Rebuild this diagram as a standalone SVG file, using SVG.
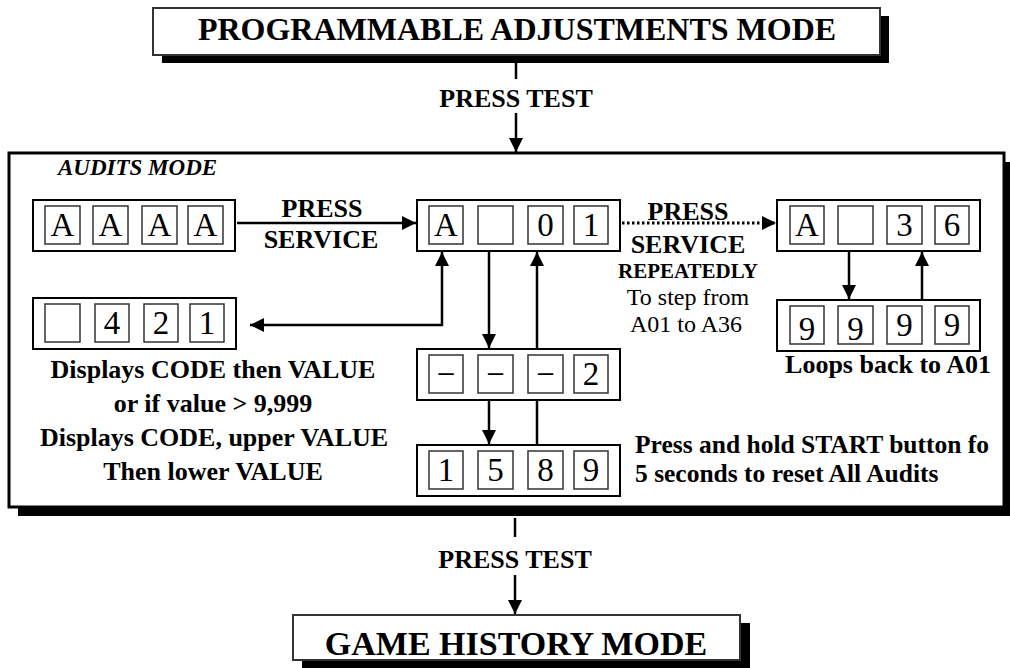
<svg xmlns="http://www.w3.org/2000/svg" width="1010" height="668" viewBox="0 0 1010 668">
<style>
text{font-family:"Liberation Serif","Times New Roman",serif;fill:#000}
.b{font-weight:bold}
.lbl{font-weight:bold;font-size:26px}
.c{text-anchor:middle}
.dig{font-size:33px;text-anchor:middle}
.outer{fill:#fff;stroke:#000;stroke-width:2}
.cell{fill:#fff;stroke:#333;stroke-width:1.5}
.shadow{fill:#000}
.ln{fill:none;stroke:#000;stroke-width:2.5}
.dot{fill:none;stroke:#000;stroke-width:3;stroke-dasharray:2.5 2.5}
</style>
<defs>
<marker id="ah" viewBox="0 0 14 14" refX="14" refY="7" markerWidth="14" markerHeight="14" markerUnits="userSpaceOnUse" orient="auto-start-reverse"><path d="M0,0 L14,7 L0,14 z" fill="#000"/></marker>
</defs>
<rect width="1010" height="668" fill="#fff"/>

<g id="audits-mode">
<rect class="shadow" x="18" y="162" width="995" height="354"/>
<rect x="9" y="153" width="995" height="354" fill="#fff" stroke="#000" stroke-width="3"/>
<text x="58" y="175" font-size="23" font-weight="bold" font-style="italic">AUDITS MODE</text>
</g>

<g id="programmable-adjustments">
<rect class="shadow" x="162" y="16" width="727" height="47"/>
<rect x="153" y="8" width="727" height="47" fill="#fff" stroke="#333" stroke-width="2"/>
<text class="b c" x="517" y="40" font-size="32">PROGRAMMABLE ADJUSTMENTS MODE</text>
</g>

<g id="game-history">
<rect class="shadow" x="302" y="623" width="448" height="45"/>
<rect x="293" y="615" width="447" height="45" fill="#fff" stroke="#333" stroke-width="2"/>
<text class="b c" x="516" y="655" font-size="34">GAME HISTORY MODE</text>
</g>

<g id="connectors">
<line class="ln" x1="516" y1="63" x2="516" y2="79"/>
<text class="lbl c" x="516" y="107">PRESS TEST</text>
<line class="ln" x1="516" y1="113" x2="516" y2="152" marker-end="url(#ah)"/>

<line class="ln" x1="515" y1="518" x2="515" y2="537"/>
<text class="lbl c" x="515" y="568">PRESS TEST</text>
<line class="ln" x1="515" y1="575" x2="515" y2="614" marker-end="url(#ah)"/>

<line class="ln" x1="237" y1="223" x2="416" y2="223" marker-end="url(#ah)"/>
<text class="lbl c" x="322" y="217">PRESS</text>
<text class="lbl c" x="321" y="248">SERVICE</text>

<line class="dot" x1="622" y1="223" x2="776" y2="223" marker-end="url(#ah)"/>
<text class="lbl c" x="688" y="220">PRESS</text>
<text class="lbl c" x="688" y="253">SERVICE</text>
<text class="b c" x="688" y="278" font-size="21">REPEATEDLY</text>
<text class="c" x="688" y="305" font-size="24">To step from</text>
<text class="c" x="686" y="332" font-size="24">A01 to A36</text>

<path class="ln" d="M250,325 H442 V252" marker-start="url(#ah)" marker-end="url(#ah)"/>
<line class="ln" x1="489" y1="252" x2="489" y2="348" marker-end="url(#ah)"/>
<line class="ln" x1="537" y1="349" x2="537" y2="252" marker-end="url(#ah)"/>
<line class="ln" x1="489" y1="401" x2="489" y2="444" marker-end="url(#ah)"/>
<line class="ln" x1="537" y1="445" x2="537" y2="400"/>
<line class="ln" x1="849" y1="252" x2="849" y2="299" marker-end="url(#ah)"/>
<line class="ln" x1="922" y1="300" x2="922" y2="252" marker-end="url(#ah)"/>
</g>

<g id="display-AAAA">
<rect class="outer" x="33" y="200" width="202" height="51"/>
<rect class="cell" x="45" y="206" width="35" height="38"/>
<rect class="cell" x="93" y="206" width="35" height="38"/>
<rect class="cell" x="142" y="206" width="35" height="38"/>
<rect class="cell" x="188" y="206" width="35" height="38"/>
<text class="dig" x="62.5" y="236">A</text>
<text class="dig" x="110.5" y="236">A</text>
<text class="dig" x="159.5" y="236">A</text>
<text class="dig" x="205.5" y="236">A</text>
</g>

<g id="display-A01">
<rect class="outer" x="417" y="200" width="203" height="51"/>
<rect class="cell" x="429" y="206" width="34" height="38"/>
<rect class="cell" x="478" y="206" width="35" height="38"/>
<rect class="cell" x="528" y="206" width="35" height="38"/>
<rect class="cell" x="574" y="206" width="34" height="38"/>
<text class="dig" x="446" y="236">A</text>
<text class="dig" x="545.5" y="236">0</text>
<text class="dig" x="591" y="236">1</text>
</g>

<g id="display-A36">
<rect class="outer" x="777" y="200" width="203" height="51"/>
<rect class="cell" x="790" y="206" width="34" height="38"/>
<rect class="cell" x="838" y="206" width="35" height="38"/>
<rect class="cell" x="887" y="206" width="35" height="38"/>
<rect class="cell" x="935" y="206" width="34" height="38"/>
<text class="dig" x="807" y="236">A</text>
<text class="dig" x="904.5" y="236">3</text>
<text class="dig" x="952" y="236">6</text>
</g>

<g id="display-9999">
<rect class="outer" x="777" y="300" width="203" height="51"/>
<rect class="cell" x="790" y="306" width="34" height="38"/>
<rect class="cell" x="838" y="306" width="35" height="38"/>
<rect class="cell" x="887" y="306" width="35" height="38"/>
<rect class="cell" x="935" y="306" width="34" height="38"/>
<text class="dig" x="807" y="340">9</text>
<text class="dig" x="855.5" y="340">9</text>
<text class="dig" x="904.5" y="336">9</text>
<text class="dig" x="952" y="336">9</text>
<text class="lbl c" x="888" y="373">Loops back to A01</text>
</g>

<g id="display-421">
<rect class="outer" x="33" y="298" width="203" height="51"/>
<rect class="cell" x="45" y="304" width="35" height="38"/>
<rect class="cell" x="95" y="304" width="34" height="38"/>
<rect class="cell" x="144" y="304" width="34" height="38"/>
<rect class="cell" x="190" y="304" width="34" height="38"/>
<text class="dig" x="112" y="334">4</text>
<text class="dig" x="161" y="334">2</text>
<text class="dig" x="207" y="334">1</text>
<text class="lbl c" x="213" y="378">Displays CODE then VALUE</text>
<text class="lbl c" x="213" y="412">or if value &gt; 9,999</text>
<text class="lbl c" x="214" y="446">Displays CODE, upper VALUE</text>
<text class="lbl c" x="213" y="480">Then lower VALUE</text>
</g>

<g id="display-dash2">
<rect class="outer" x="417" y="349" width="203" height="51"/>
<rect class="cell" x="429" y="355" width="34" height="38"/>
<rect class="cell" x="478" y="355" width="35" height="38"/>
<rect class="cell" x="528" y="355" width="35" height="38"/>
<rect class="cell" x="574" y="355" width="34" height="38"/>
<text class="dig" x="446" y="385">−</text>
<text class="dig" x="495.5" y="385">−</text>
<text class="dig" x="545.5" y="385">−</text>
<text class="dig" x="591" y="385">2</text>
</g>

<g id="display-1589">
<rect class="outer" x="417" y="445" width="203" height="51"/>
<rect class="cell" x="429" y="451" width="34" height="38"/>
<rect class="cell" x="478" y="451" width="35" height="38"/>
<rect class="cell" x="528" y="451" width="35" height="38"/>
<rect class="cell" x="574" y="451" width="34" height="38"/>
<text class="dig" x="446" y="481">1</text>
<text class="dig" x="495.5" y="481">5</text>
<text class="dig" x="545.5" y="481">8</text>
<text class="dig" x="591" y="481">9</text>
<text class="b" x="635" y="453" font-size="25.5">Press and hold START button fo</text>
<text class="b" x="635" y="482" font-size="25.5">5 seconds to reset All Audits</text>
</g>
</svg>
